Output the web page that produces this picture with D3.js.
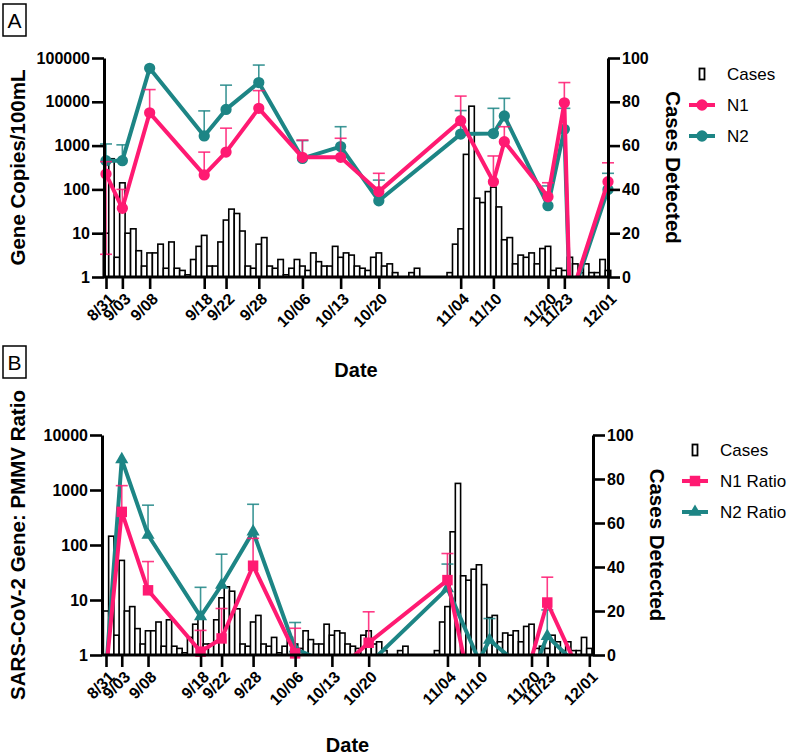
<!DOCTYPE html>
<html><head><meta charset="utf-8">
<script src="https://cdn.jsdelivr.net/npm/d3@7"></script>
<style>
body{margin:0;background:#fff;}
svg{display:block;font-family:"Liberation Sans",Arial,Helvetica,sans-serif;}
</style></head><body>
<svg id="chart" width="788" height="756"></svg>
<script>
// ---------------- DATA ----------------
const startDay = "2020-08-31";
const endDay = "2020-12-01";
// daily cases from 8/31 to 12/01
const cases = [20,54,9,43,20,22,12,5,11,11,15,4,16,4,3,1,8,14,19,5,5,16,26,31,29,21,5,4,15,18,
  5,4,8,1,4,8,5,3,11,7,5,5,14,9,11,10,5,4,3,9,11,5,6,2,0,0,2,4,0,0,
  0,0,0,2,15,22,56,78,36,34,39,41,32,17,18,6,10,9,11,6,13,14,3,4,3,9,6,2,6,2,2,8,3];
const tickDates = ["2020-08-31","2020-09-03","2020-09-08","2020-09-18","2020-09-22","2020-09-28","2020-10-06","2020-10-13","2020-10-20","2020-11-04","2020-11-10","2020-11-20","2020-11-23","2020-12-01"];
const tickLabels = ["8/31","9/03","9/08","9/18","9/22","9/28","10/06","10/13","10/20","11/04","11/10","11/20","11/23","12/01"];

// Panel A: gene copies / 100 mL
const datesA = ["2020-08-31","2020-09-03","2020-09-08","2020-09-18","2020-09-22","2020-09-28","2020-10-06","2020-10-13","2020-10-20","2020-11-04","2020-11-10","2020-11-12","2020-11-20","2020-11-23","2020-11-24","2020-12-01"];
const n1 =      [224, 37, 5600, 214, 710, 7100, 540, 540, 89, 3700, 150, 1230, 68, 9500, 0.3, 150];
const n1Upper = [430, 100, 19000, 710, 2500, 18000, 1340, 1470, 233, 13500, 580, 2700, 142, 27500, null, 405];
const n1Lower = [3.3, null, null, null, null, null, null, null, null, null, null, null, null, null, null, null];
const n2 =      [453, 453, 58000, 1660, 6700, 27500, 510, 950, 55, 1830, 1880, 4750, 42.5, 2350, 0.25, 100];
const n2Upper = [1090, 1040, null, 6200, 24000, 69000, 1300, 2700, 163, 6300, 7100, 12000, 120, 7100, null, 233];

// Panel B: ratio to PMMoV
const datesB = ["2020-08-31","2020-09-03","2020-09-08","2020-09-18","2020-09-22","2020-09-28","2020-10-06","2020-10-13","2020-10-20","2020-11-04","2020-11-10","2020-11-12","2020-11-20","2020-11-23","2020-12-01"];
const n1Ratio =      [0.5, 400, 15, 1.15, 2.0, 42, 1.07, 0.42, 1.67, 23, 0.046, 0.1, 0.88, 9, 0.2];
const n1RatioUpper = [null, 1200, 50, 2.8, 7, 132, 3.06, null, 6.1, 70, null, null, null, 26, null];
const n2Ratio =      [0.5, 3600, 152, 5, 18.7, 175, 1.3, 0.66, 0.68, 16.3, 0.8, 1.87, 0.42, 2.2, 0.4];
const n2RatioUpper = [null, null, 530, 17, 68, 550, 3.9, null, null, 45, null, 4.6, null, 6.6, null];

const leftTicksA = [1,10,100,1000,10000,100000];
const leftTicksB = [1,10,100,1000,10000];
const rightTicks = [0,20,40,60,80,100];

const PINK = "#FF1A72";
const TEAL = "#1D8585";

// ---------------- DRAW ----------------
const svg = d3.select("#chart");
const parse = d3.utcParse("%Y-%m-%d");
const start = parse(startDay), end = parse(endDay);
const caseDates = cases.map((c,i)=>d3.utcDay.offset(start,i));

function drawPanel(cfg){
  const g = svg.append("g");
  const x = d3.scaleUtc().domain([start,end]).range([cfg.x0,cfg.x1]);
  const y = d3.scaleLog().domain(cfg.logDomain).range([cfg.bottom,cfg.top]);
  const yc = d3.scaleLinear().domain([0,100]).range([cfg.bottom,cfg.top]);
  const bw = x(d3.utcDay.offset(start,1)) - x(start);

  // bars
  g.append("g").selectAll("rect").data(cases).join("rect")
    .attr("x",(d,i)=>x(caseDates[i])-bw/2).attr("width",bw)
    .attr("y",d=>yc(d)).attr("height",d=>cfg.bottom-yc(d))
    .attr("fill","#fff").attr("stroke","#000").attr("stroke-width",1.6);

  const clipId = "clip"+cfg.name;
  svg.append("clipPath").attr("id",clipId).append("rect")
    .attr("x",cfg.left).attr("y",0).attr("width",cfg.right-cfg.left).attr("height",cfg.bottom);

  cfg.series.forEach(s=>{
    const pts = s.values.map((v,i)=>({date:parse(s.dates[i]),v,up:s.upper?s.upper[i]:null,lo:s.lower?s.lower[i]:null}));
    const sg = g.append("g");
    // error bars
    pts.forEach(p=>{
      if(p.v<1) return;
      const px=x(p.date);
      [p.up,p.lo].forEach(e=>{
        if(e==null) return;
        sg.append("line").attr("x1",px).attr("x2",px).attr("y1",y(p.v)).attr("y2",y(e))
          .attr("stroke",s.color).attr("stroke-width",1.6).attr("opacity",0.85);
        sg.append("line").attr("x1",px-6).attr("x2",px+6).attr("y1",y(e)).attr("y2",y(e))
          .attr("stroke",s.color).attr("stroke-width",1.6).attr("opacity",0.85);
      });
    });
    sg.append("path").datum(pts)
      .attr("clip-path",`url(#${clipId})`)
      .attr("d",d3.line().x(p=>x(p.date)).y(p=>y(p.v)))
      .attr("fill","none").attr("stroke",s.color).attr("stroke-width",4).attr("stroke-linejoin","round");
    sg.selectAll("path.m").data(pts.filter(p=>p.v>=1)).join("path").attr("class","m")
      .attr("transform",p=>`translate(${x(p.date)},${y(p.v)})`)
      .attr("d",d3.symbol().type(s.shape).size(s.size))
      .attr("fill",s.color);
  });

  // axes
  const ax = g.append("g");
  const left = ax.append("g").attr("transform",`translate(${cfg.left},0)`)
    .call(d3.axisLeft(y).tickValues(cfg.leftTicks).tickFormat(d3.format("d")).tickSize(12).tickSizeOuter(0).tickPadding(2));
  const right = ax.append("g").attr("transform",`translate(${cfg.right},0)`)
    .call(d3.axisRight(yc).tickValues(rightTicks).tickFormat(d3.format("d")).tickSize(12).tickSizeOuter(0).tickPadding(2));
  const bottom = ax.append("g").attr("transform",`translate(0,${cfg.bottom})`)
    .call(d3.axisBottom(x).tickValues(tickDates.map(parse)).tickFormat((d,i)=>tickLabels[i]).tickSize(12).tickSizeOuter(0));
  bottom.select(".domain").remove();
  ax.append("line").attr("x1",cfg.left).attr("x2",cfg.right).attr("y1",cfg.bottom).attr("y2",cfg.bottom)
    .attr("stroke","#000").attr("stroke-width",3);
  [left,right].forEach(a=>a.select(".domain").attr("stroke-width",3));
  ax.selectAll(".tick line").attr("stroke-width",2.6);
  [left,right].forEach(a=>a.selectAll("text").attr("font-size",16).attr("font-weight","bold").attr("fill","#000"));
  bottom.selectAll("text").attr("font-size",16).attr("font-weight","bold").attr("fill","#000")
    .attr("y",null).attr("dy","0.35em").attr("text-anchor","end")
    .attr("transform","translate(5,19) rotate(-45)");

  // titles
  g.append("text").attr("transform",`translate(${cfg.ltX},${(cfg.top+cfg.bottom)/2}) rotate(-90)`)
    .attr("text-anchor","middle").attr("dominant-baseline","central")
    .attr("font-size",20.5).attr("font-weight","bold").text(cfg.leftTitle);
  g.append("text").attr("transform",`translate(${cfg.rtX},${(cfg.top+cfg.bottom)/2}) rotate(90)`)
    .attr("text-anchor","middle").attr("dominant-baseline","central")
    .attr("font-size",20.5).attr("font-weight","bold").text("Cases Detected");
  g.append("text").attr("x",(cfg.left+cfg.right)/2).attr("y",cfg.dateY)
    .attr("text-anchor","middle").attr("font-size",20).attr("font-weight","bold").text("Date");

  // panel letter box
  g.append("rect").attr("x",3).attr("y",cfg.boxY).attr("width",23).attr("height",32)
    .attr("fill","none").attr("stroke","#000").attr("stroke-width",1.5);
  g.append("text").attr("x",14.5).attr("y",cfg.boxY+16).attr("text-anchor","middle")
    .attr("dominant-baseline","central").attr("font-size",21).text(cfg.name);

  // legend
  const lg = g.append("g");
  const L = cfg.legend;
  lg.append("rect").attr("x",L.iconX-2.5).attr("y",L.y0-5.5).attr("width",5).attr("height",11)
    .attr("fill","#fff").attr("stroke","#000").attr("stroke-width",1.8);
  lg.append("text").attr("x",L.textX).attr("y",L.y0).attr("dominant-baseline","central")
    .attr("font-size",17).text("Cases");
  cfg.series.slice().reverse().forEach((s,i)=>{
    const yy = L.y0 + L.gap*(i+1);
    lg.append("line").attr("x1",L.iconX-13).attr("x2",L.iconX+13).attr("y1",yy).attr("y2",yy)
      .attr("stroke",s.color).attr("stroke-width",4);
    lg.append("path").attr("transform",`translate(${L.iconX},${yy})`)
      .attr("d",d3.symbol().type(s.shape).size(s.size)).attr("fill",s.color);
    lg.append("text").attr("x",L.textX).attr("y",yy).attr("dominant-baseline","central")
      .attr("font-size",17).text(s.label);
  });
}

drawPanel({
  name:"A", left:104, right:608, top:58, bottom:277, x0:106, x1:608,
  logDomain:[1,100000], leftTicks:leftTicksA,
  leftTitle:"Gene Copies/100mL", ltX:17, rtX:673, dateY:377, boxY:4,
  legend:{iconX:702, textX:727, y0:74, gap:31},
  series:[
    {label:"N2", dates:datesA, values:n2, upper:n2Upper, color:TEAL, shape:d3.symbolCircle, size:100},
    {label:"N1", dates:datesA, values:n1, upper:n1Upper, lower:n1Lower, color:PINK, shape:d3.symbolCircle, size:100}
  ]
});

drawPanel({
  name:"B", left:102, right:593, top:435, bottom:655, x0:106, x1:589.3,
  logDomain:[1,10000], leftTicks:leftTicksB,
  leftTitle:"SARS-CoV-2 Gene: PMMV Ratio", ltX:17, rtX:657, dateY:752, boxY:346,
  legend:{iconX:695, textX:720, y0:450, gap:31},
  series:[
    {label:"N2 Ratio", dates:datesB, values:n2Ratio, upper:n2RatioUpper, color:TEAL, shape:d3.symbolTriangle, size:75},
    {label:"N1 Ratio", dates:datesB, values:n1Ratio, upper:n1RatioUpper, color:PINK, shape:d3.symbolSquare, size:110}
  ]
});
</script>
</body></html>
